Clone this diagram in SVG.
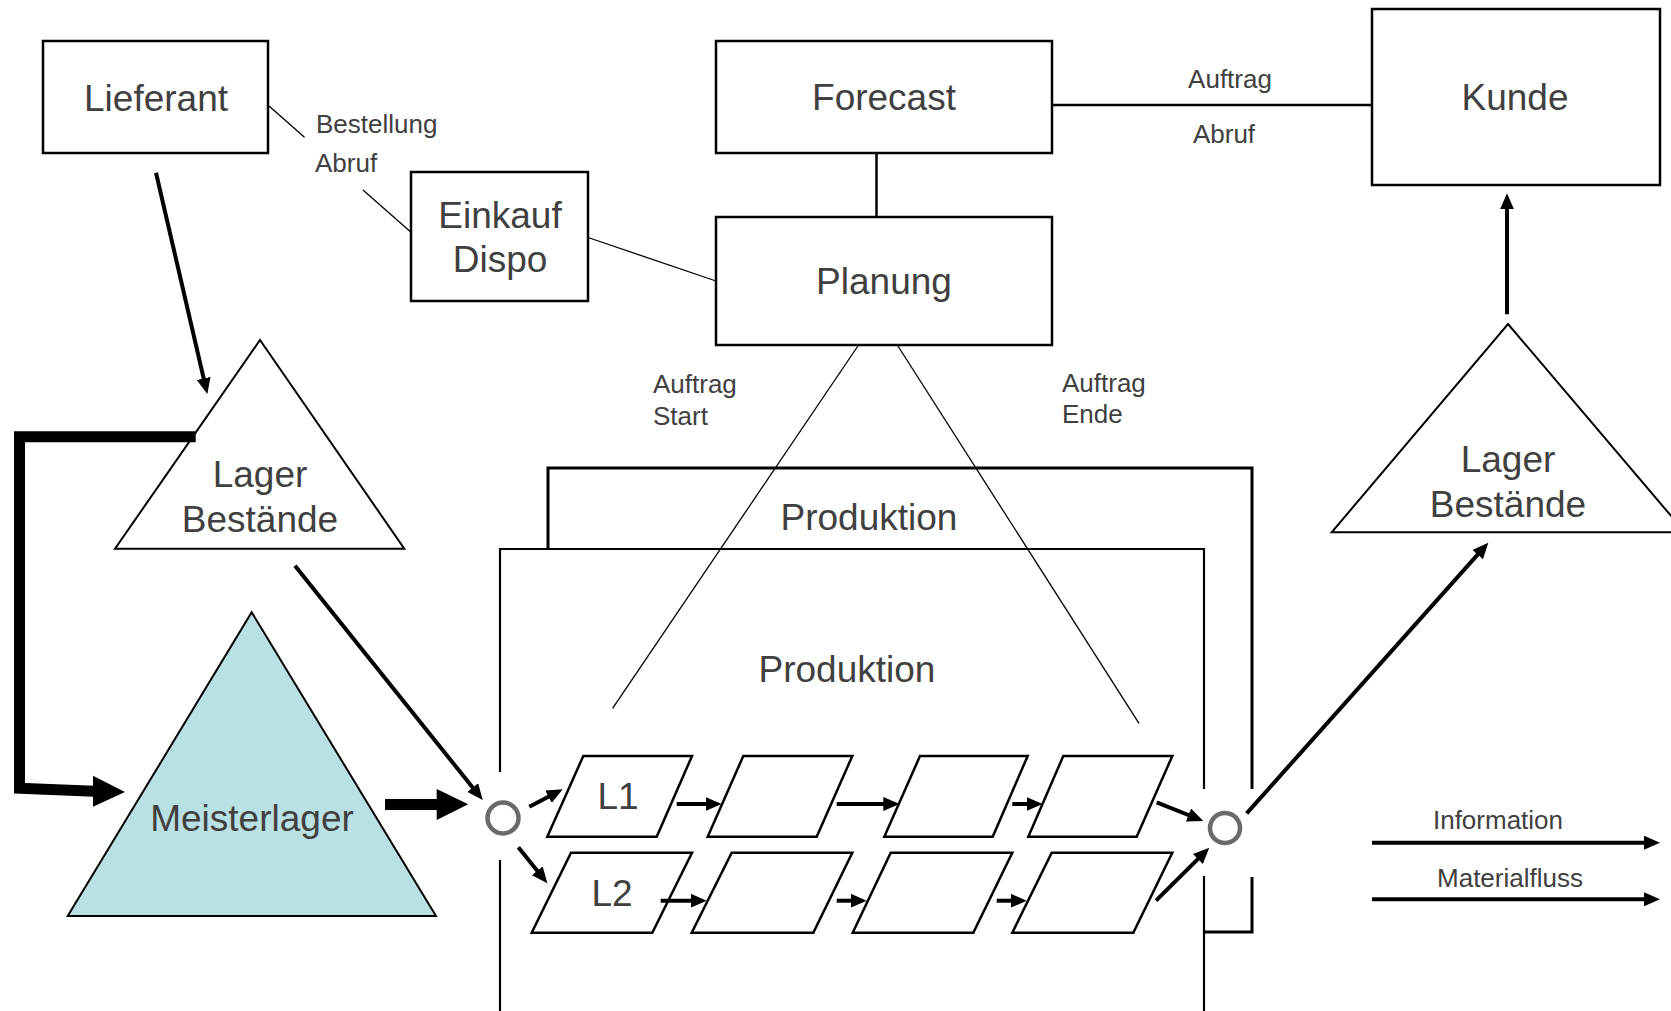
<svg xmlns="http://www.w3.org/2000/svg" width="1671" height="1011" viewBox="0 0 1671 1011">
<defs>
<style>
.box{fill:#fff;stroke:#000;stroke-width:2.5}
.tri{fill:#fff;stroke:#000;stroke-width:2}
.par{fill:#fff;stroke:#000;stroke-width:2.5}
.frame{fill:none;stroke:#000;stroke-linecap:butt}
.big{font-family:"Liberation Sans",Arial,sans-serif;font-size:37px;fill:#404040;text-anchor:middle}
.small{font-family:"Liberation Sans",Arial,sans-serif;font-size:26px;fill:#404040}
.mid{text-anchor:middle}
.thin{stroke:#000;stroke-width:1.3;fill:none}
.link{stroke:#000;stroke-width:2.5;fill:none}
.arr{stroke:#000;stroke-width:4;fill:none;marker-end:url(#ah)}
.thick{stroke:#000;stroke-width:11;fill:none;stroke-linejoin:miter}
.ring{fill:none;stroke:#6a6a6a;stroke-width:4.5}
</style>
<marker id="ah" markerUnits="userSpaceOnUse" markerWidth="16" markerHeight="14" viewBox="0 0 16 14" refX="8" refY="7" orient="auto">
<path d="M0,0 L16,7 L0,14 z" fill="#000"/>
</marker>
</defs>
<rect width="1671" height="1011" fill="#fff"/>

<g id="produktion-outer">
<path class="frame" stroke-width="3" d="M548,549 V468 H1252 V789"/>
<path class="frame" stroke-width="3" d="M1252,877 V932 H1204"/>
<text class="big" x="869" y="530">Produktion</text>
</g>
<g id="produktion-inner">
<path class="frame" stroke-width="2.2" d="M500,772 V549 H1204 V789"/>
<path class="frame" stroke-width="2.2" d="M500,860 V1011"/>
<path class="frame" stroke-width="2.2" d="M1204,876 V1011"/>
<text class="big" x="847" y="682">Produktion</text>
</g>

<g id="lieferant">
<rect class="box" x="43" y="41" width="225" height="112"/>
<text class="big" x="156" y="111">Lieferant</text>
</g>
<g id="einkauf">
<rect class="box" x="411" y="172" width="177" height="129"/>
<text class="big" x="500" y="228">Einkauf</text>
<text class="big" x="500" y="272">Dispo</text>
</g>
<g id="forecast">
<rect class="box" x="716" y="41" width="336" height="112"/>
<text class="big" x="884" y="110">Forecast</text>
</g>
<g id="planung">
<rect class="box" x="716" y="217" width="336" height="128"/>
<text class="big" x="884" y="294">Planung</text>
</g>
<g id="kunde">
<rect class="box" x="1372" y="9" width="288" height="176"/>
<text class="big" x="1515" y="110">Kunde</text>
</g>
<g id="lager-links">
<polygon class="tri" points="260,340 404.3,548.7 115,548.7"/>
<text class="big" x="260" y="487">Lager</text>
<text class="big" x="260" y="532">Bestände</text>
</g>
<g id="lager-rechts">
<polygon class="tri" points="1508,324 1685,532.3 1331.7,532.3"/>
<text class="big" x="1508" y="472">Lager</text>
<text class="big" x="1508" y="517">Bestände</text>
</g>
<g id="meisterlager">
<polygon class="tri" style="fill:#b9e0e3" points="251.7,612.3 436,916 67.7,916"/>
<text class="big" x="252" y="831">Meisterlager</text>
</g>
<g id="verteiler-start"><circle class="ring" cx="503" cy="818" r="15.5"/></g>
<g id="verteiler-ende"><circle class="ring" cx="1225" cy="828" r="15"/></g>

<g id="linie1">
<polygon class="par" points="583.3,756 692,756 656.7,836.7 547.3,836.7"/>
<text class="big" x="618" y="809">L1</text>
<polygon class="par" points="743.3,756 852.3,756 816.7,836.7 707.7,836.7"/>
<polygon class="par" points="920,756 1027.7,756 992.7,836.7 884.3,836.7"/>
<polygon class="par" points="1063.3,756 1172.3,756 1136.7,836.7 1028.3,836.7"/>
</g>
<g id="linie2">
<polygon class="par" points="571,852.7 692,852.7 652.3,932.7 531.7,932.7"/>
<text class="big" x="612" y="906">L2</text>
<polygon class="par" points="731.7,852.7 852.3,852.7 813.3,932.7 691.7,932.7"/>
<polygon class="par" points="890.7,852.7 1012.3,852.7 973.3,932.7 852.7,932.7"/>
<polygon class="par" points="1051.7,852.7 1172.3,852.7 1133.3,932.7 1012.3,932.7"/>
</g>

<g id="connectors">
<line class="thin" x1="269" y1="106" x2="304.5" y2="137.3"/>
<line class="thin" x1="363" y1="190" x2="411" y2="232.3"/>
<line class="thin" x1="588" y1="237.5" x2="716" y2="281"/>
<line class="link" x1="1052" y1="105" x2="1372" y2="105"/>
<line class="link" x1="876.5" y1="153" x2="876.5" y2="217"/>
<line class="thin" x1="858.6" y1="345" x2="612.6" y2="708.3"/>
<line class="thin" x1="897.3" y1="345" x2="1139" y2="723.3"/>

<line class="arr" x1="156" y1="172.7" x2="205.5" y2="386.2"/>
<line class="arr" x1="295" y1="565.7" x2="477.7" y2="793.8"/>
<line class="arr" x1="529.3" y1="806.7" x2="555.6" y2="793"/>
<line class="arr" x1="676.7" y1="804" x2="713.7" y2="804"/>
<line class="arr" x1="836.7" y1="804" x2="891.3" y2="804"/>
<line class="arr" x1="1012.3" y1="804" x2="1034.7" y2="804"/>
<line class="arr" x1="1156.7" y1="802.3" x2="1195.9" y2="818"/>
<line class="arr" x1="518.3" y1="847.3" x2="542.3" y2="877.1"/>
<line class="arr" x1="660.7" y1="900.7" x2="698.7" y2="900.7"/>
<line class="arr" x1="836.7" y1="900.7" x2="858.7" y2="900.7"/>
<line class="arr" x1="996.7" y1="900.7" x2="1018.7" y2="900.7"/>
<line class="arr" x1="1156" y1="900.7" x2="1203.6" y2="853.3"/>
<line class="arr" x1="1246.7" y1="813.3" x2="1483" y2="548.7"/>
<line class="arr" x1="1507" y1="314.3" x2="1507" y2="201.3"/>

<path class="thick" d="M195.7,436.7 H19.5 V788.3 L94,791.2"/>
<polygon points="93,775.7 125,792 93,806.7" fill="#000"/>
<line class="thick" x1="385" y1="804.5" x2="438" y2="804.5"/>
<polygon points="436.7,789 468.3,804.3 436.7,820" fill="#000"/>

<text class="small" x="316" y="133">Bestellung</text>
<text class="small" x="315" y="172">Abruf</text>
<text class="small mid" x="1230" y="88">Auftrag</text>
<text class="small mid" x="1224" y="143">Abruf</text>
<text class="small" x="653" y="393">Auftrag</text>
<text class="small" x="653" y="425">Start</text>
<text class="small" x="1062" y="392">Auftrag</text>
<text class="small" x="1062" y="423">Ende</text>
</g>

<g id="legende">
<line class="arr" x1="1372" y1="842.7" x2="1652" y2="842.7"/>
<text class="small mid" x="1498" y="829">Information</text>
<line class="arr" x1="1372" y1="899.3" x2="1652" y2="899.3"/>
<text class="small mid" x="1510" y="887">Materialfluss</text>
</g>
</svg>
